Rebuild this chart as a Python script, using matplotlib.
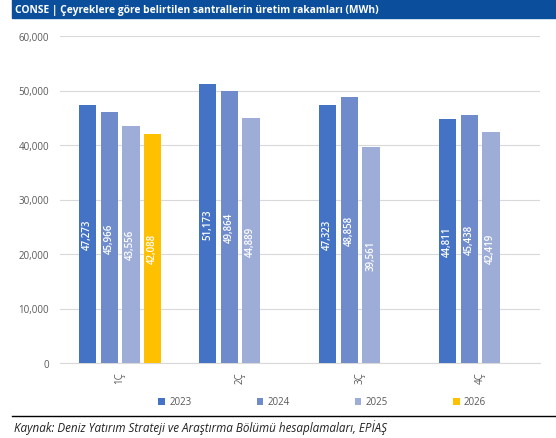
import matplotlib.pyplot as plt
import numpy as np

# -----------------------------
# Data
# -----------------------------
quarters = ['1Ç', '2Ç', '3Ç', '4Ç']
years = ['2023', '2024', '2025', '2026']
v2023 = [47273, 51173, 47323, 44811]
v2024 = [45966, 49864, 48858, 45438]
v2025 = [43556, 44889, 39561, 42419]
v2026 = [42088, None, None, None]
series = [v2023, v2024, v2025, v2026]
colors = ['#4472C4', '#6F8BCB', '#9EADD8', '#FFC000']

plt.rcParams['font.family'] = ['Open Sans', 'DejaVu Sans']

fig = plt.figure(figsize=(5.56, 4.39), dpi=100)
ax = fig.add_axes([60 / 556, 1 - 364 / 439, 480 / 556, 327 / 439])

x = np.arange(len(quarters))
slot = 0.18
width = 0.145
for i, (vals, col, yr) in enumerate(zip(series, colors, years)):
    off = (i - 1.5) * slot
    xs = [xx + off for xx, v in zip(x, vals) if v is not None]
    ys = [v for v in vals if v is not None]
    bars = ax.bar(xs, ys, width=width, color=col, label=yr, zorder=3)
    for b, v in zip(bars, ys):
        ax.text(b.get_x() + b.get_width() / 2, v / 2, f'{v:,}', rotation=90,
                ha='center', va='center', color='white', fontsize=7,
                fontweight='semibold', zorder=4)

ax.set_xlim(-0.5, 3.5)
ax.set_ylim(0, 60000)
ax.set_yticks(np.arange(0, 60001, 10000))
ax.yaxis.set_major_formatter(plt.FuncFormatter(lambda v, p: f'{int(v):,}'))
ax.set_xticks(x)
ax.set_xticklabels(quarters, rotation=90, fontsize=7, color='#595959')
ax.tick_params(axis='y', labelsize=7, colors='#595959', length=0, pad=8)
ax.tick_params(axis='x', length=0, pad=6)
ax.grid(axis='y', color='#D9D9D9', linewidth=0.8, zorder=0)
for s in ['top', 'right', 'left']:
    ax.spines[s].set_visible(False)
ax.spines['bottom'].set_color('#D9D9D9')

fig.legend(loc='center', bbox_to_anchor=(322 / 556, 1 - 403 / 439), ncol=4,
           frameon=False, fontsize=7, handlelength=0.7, handleheight=0.7,
           columnspacing=6.7, handletextpad=0.4, labelcolor='#595959')

# header bar
fig.patches.append(plt.Rectangle((12 / 556, 1 - 19 / 439), 544 / 556, 19 / 439,
                                 transform=fig.transFigure, color='#0B4F9C'))
fig.text(15 / 556, 1 - 10 / 439, 'CONSE | Çeyreklere göre belirtilen santrallerin üretim rakamları (MWh)',
         color='white', fontsize=7.4, fontweight='bold', va='center', ha='left')

# footer line and source
fig.add_artist(plt.Line2D([12 / 556, 1], [1 - 417 / 439, 1 - 417 / 439],
                          transform=fig.transFigure, color='black', linewidth=1))
fig.text(14 / 556, 1 - 428 / 439, 'Kaynak: Deniz Yatırım Strateji ve Araştırma Bölümü hesaplamaları, EPİAŞ',
         fontsize=8.4, style='italic', va='center', ha='left', color='#222222')

fig.savefig('out.png', dpi=100)
